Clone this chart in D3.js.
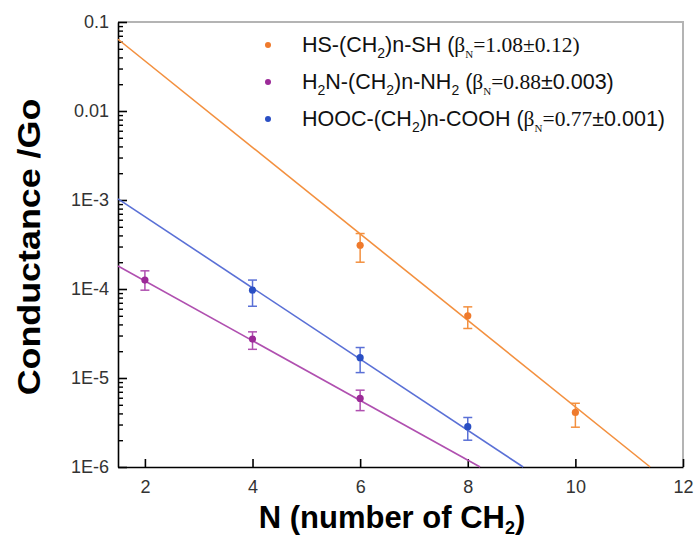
<!DOCTYPE html>
<html>
<head>
<meta charset="utf-8">
<script src="https://cdn.jsdelivr.net/npm/d3@7"></script>
<style>
  body { margin: 0; background: #fff; }
  text { font-family: "Liberation Sans", Arial, sans-serif; }
</style>
</head>
<body>
<div id="container"></div>
<script>
// measured values, G in units of Go
const thiolN = [6, 8, 10];
const thiolG = [3.1e-4, 5.0e-5, 4.1e-6];
const thiolLo = [2.0e-4, 3.6e-5, 2.8e-6];
const thiolHi = [4.2e-4, 6.3e-5, 5.2e-6];

const amineN = [2, 4, 6];
const amineG = [1.26e-4, 2.74e-5, 5.9e-6];
const amineLo = [0.97e-4, 2.1e-5, 4.3e-6];
const amineHi = [1.6e-4, 3.3e-5, 7.3e-6];

const acidN = [4, 6, 8];
const acidG = [9.7e-5, 1.69e-5, 2.84e-6];
const acidLo = [6.4e-5, 1.15e-5, 2.0e-6];
const acidHi = [1.26e-4, 2.2e-5, 3.6e-6];

// fitted lines, [N, G] end points
const thiolFit = [[1.5, 0.064], [11.39, 1e-6]];
const amineFit = [[1.5, 1.81e-4], [8.23, 1e-6]];
const acidFit = [[1.5, 1.03e-3], [9.03, 1e-6]];

const xTicks = [2, 4, 6, 8, 10, 12];
const yTicks = [0.1, 0.01, 1e-3, 1e-4, 1e-5, 1e-6];
const yTickLabels = ["0.1", "0.01", "1E-3", "1E-4", "1E-5", "1E-6"];

const colors = ["#ef7a2c", "#9c2a98", "#2a4fc4"];
const lineColors = ["#f3903f", "#b050b0", "#5a70d6"];

const width = 696, height = 541;
const margin = { top: 22, right: 13, bottom: 74, left: 118 };

const svg = d3.select("#container").append("svg")
  .attr("width", width)
  .attr("height", height);

const x = d3.scaleLinear().domain([1.5, 12]).range([margin.left, width - margin.right]);
const y = d3.scaleLog().domain([1e-6, 0.1]).range([height - margin.bottom, margin.top]);

// frame (top and right in grey)
svg.append("path")
  .attr("d", `M${x(1.5)},${y(0.1)}H${x(12)}V${y(1e-6)}`)
  .attr("fill", "none")
  .attr("stroke", "#b4b4b4")
  .attr("stroke-width", 2);

// x axis, ticks pointing in
const xAxis = svg.append("g")
  .attr("transform", `translate(0,${y(1e-6)})`)
  .call(d3.axisBottom(x).tickValues(xTicks).tickSizeInner(-8).tickSizeOuter(0).tickPadding(10));
xAxis.select(".domain").attr("stroke-width", 1.6);
xAxis.selectAll(".tick line").attr("stroke-width", 1.6);
xAxis.selectAll(".tick text").attr("font-size", 18).attr("fill", "#333").attr("dy", "0.9em");

// y axis minor ticks
const minor = [];
for (let e = -6; e < -1; e++) {
  for (let k = 2; k <= 9; k++) minor.push(k * Math.pow(10, e));
}
svg.append("g")
  .attr("transform", `translate(${x(1.5)},0)`)
  .call(d3.axisLeft(y).tickValues(minor).tickSizeInner(-5).tickSizeOuter(0).tickFormat(""))
  .call(g => g.select(".domain").remove())
  .selectAll(".tick line").attr("stroke-width", 1.4);

const yAxis = svg.append("g")
  .attr("transform", `translate(${x(1.5)},0)`)
  .call(d3.axisLeft(y).tickValues(yTicks).tickSizeInner(-9).tickSizeOuter(0).tickPadding(9)
    .tickFormat((d, i) => yTickLabels[i]));
yAxis.select(".domain").attr("stroke-width", 1.6);
yAxis.selectAll(".tick text").attr("font-size", 18).attr("fill", "#333");
yAxis.selectAll(".tick line").attr("stroke-width", 1.6);

// axis titles
svg.append("text")
  .attr("transform", `translate(40,247) rotate(-90) scale(1.12,1)`)
  .attr("text-anchor", "middle")
  .attr("font-size", 32)
  .attr("font-weight", "bold")
  .text("Conductance /Go");

const xTitle = svg.append("text")
  .attr("x", 392)
  .attr("y", 528)
  .attr("text-anchor", "middle")
  .attr("font-size", 31)
  .attr("font-weight", "bold");
xTitle.append("tspan").text("N (number of CH");
xTitle.append("tspan").attr("font-size", 18).attr("dy", 6).text("2");
xTitle.append("tspan").attr("dy", -6).text(")");

// fit lines
const fits = [thiolFit, amineFit, acidFit];
svg.append("g").selectAll("path")
  .data(fits)
  .join("path")
  .attr("d", d => d3.line().x(p => x(p[0])).y(p => y(p[1]))(d))
  .attr("fill", "none")
  .attr("stroke", (d, i) => lineColors[i])
  .attr("stroke-width", 1.6);

// points with error bars
const sets = [
  [thiolN, thiolG, thiolLo, thiolHi],
  [amineN, amineG, amineLo, amineHi],
  [acidN, acidG, acidLo, acidHi]
];
sets.forEach(([ns, gs, lo, hi], s) => {
  const pts = ns.map((n, i) => ({ n, g: gs[i], lo: lo[i], hi: hi[i] }));
  const g = svg.append("g");
  const bars = g.selectAll("g.err").data(pts).join("g").attr("class", "err")
    .attr("stroke", lineColors[s]).attr("stroke-width", 1.5);
  bars.append("line")
    .attr("x1", d => x(d.n)).attr("x2", d => x(d.n))
    .attr("y1", d => y(d.lo)).attr("y2", d => y(d.hi));
  bars.append("line")
    .attr("x1", d => x(d.n) - 4.5).attr("x2", d => x(d.n) + 4.5)
    .attr("y1", d => y(d.lo)).attr("y2", d => y(d.lo));
  bars.append("line")
    .attr("x1", d => x(d.n) - 4.5).attr("x2", d => x(d.n) + 4.5)
    .attr("y1", d => y(d.hi)).attr("y2", d => y(d.hi));
  g.selectAll("circle").data(pts).join("circle")
    .attr("cx", d => x(d.n)).attr("cy", d => y(d.g))
    .attr("r", 3.6)
    .attr("fill", colors[s]);
});

// legend
const legend = svg.append("g").attr("font-size", 21.5).attr("fill", "#111");
const rows = [
  [["HS-(CH", 0], ["2", 1], [")n-SH (", 0], ["β", 2], ["N", 3], ["=1.08±0.12)", 2]],
  [["H", 0], ["2", 1], ["N-(CH", 0], ["2", 1], [")n-NH", 0], ["2", 1], [" (", 0], ["β", 2], ["N", 3], ["=0.88", 2], ["±0.003)", 0]],
  [["HOOC-(CH", 0], ["2", 1], [")n-COOH (", 0], ["β", 2], ["N", 3], ["=0.77", 2], ["±0.001)", 0]]
];
rows.forEach((parts, i) => {
  const ry = 45 + i * 37;
  legend.append("circle").attr("cx", 268).attr("cy", ry).attr("r", 3).attr("fill", colors[i]);
  const t = legend.append("text").attr("x", 302).attr("y", ry + 7);
  let shift = 0;
  parts.forEach(([str, kind]) => {
    const sp = t.append("tspan").text(str);
    const want = (kind === 1 || kind === 3) ? 6 : 0;
    if (want !== shift) { sp.attr("dy", want - shift); shift = want; }
    if (kind === 1) sp.attr("font-size", 14);
    if (kind === 2) sp.attr("font-family", "Liberation Serif, Times New Roman, serif");
    if (kind === 3) sp.attr("font-size", 11).attr("font-family", "Liberation Serif, serif");
  });
});
</script>
</body>
</html>
